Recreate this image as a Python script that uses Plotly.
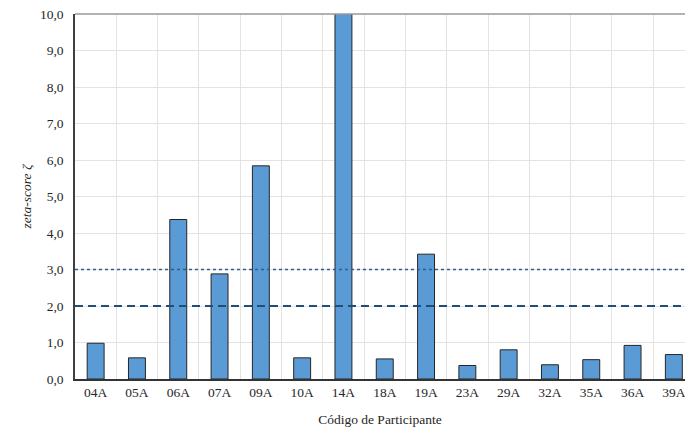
import plotly.graph_objects as go

# Participant codes and their zeta-scores
participants = ["04A", "05A", "06A", "07A", "09A", "10A", "14A", "18A",
                "19A", "23A", "29A", "32A", "35A", "36A", "39A"]
zeta_scores = [0.98, 0.58, 4.37, 2.88, 5.84, 0.58, 11.5, 0.55,
               3.42, 0.37, 0.80, 0.39, 0.53, 0.92, 0.67]

# Criteria limits
limit_questionable = 2.0
limit_unsatisfactory = 3.0

serif = "Liberation Serif"
fsize = 13.5

fig = go.Figure()
fig.add_trace(go.Bar(
    x=participants,
    y=zeta_scores,
    width=0.41,
    marker=dict(color="#5B9BD5", line=dict(color="#262626", width=1)),
    showlegend=False,
    hoverinfo="x+y",
))

# Limit lines across the full plot width
fig.add_shape(type="line", xref="paper", yref="y", x0=0, x1=1,
              y0=limit_unsatisfactory, y1=limit_unsatisfactory,
              line=dict(color="#2E5D8E", width=1.6, dash="dot"))
fig.add_shape(type="line", xref="paper", yref="y", x0=0, x1=1,
              y0=limit_questionable, y1=limit_questionable,
              line=dict(color="#1F4E79", width=2, dash="8px,5px"))

# Top frame line
fig.add_shape(type="line", xref="paper", yref="paper", x0=0, x1=1,
              y0=1, y1=1, line=dict(color="#9A9A9A", width=1.5))

fig.update_layout(
    width=685,
    height=429,
    margin=dict(l=75, r=0, t=14, b=50),
    paper_bgcolor="white",
    plot_bgcolor="white",
    separators=",.",
    font=dict(family=serif, size=fsize, color="#262626"),
    bargap=0.59,
)

fig.update_xaxes(
    type="category",
    range=[-0.5, 14.27],
    tickson="boundaries",
    showgrid=True,
    gridcolor="#E3E3E3",
    gridwidth=1,
    showline=True,
    linecolor="#333333",
    linewidth=1.5,
    ticks="",
    tickfont=dict(family=serif, size=fsize, color="#262626"),
    title=dict(text="Código de Participante",
               font=dict(family=serif, size=fsize, color="#262626"),
               standoff=16),
)

fig.update_yaxes(
    range=[0, 10],
    dtick=1,
    tickformat=".1f",
    showgrid=True,
    gridcolor="#E3E3E3",
    gridwidth=1,
    zeroline=False,
    showline=True,
    linecolor="#404040",
    linewidth=1.5,
    ticks="",
    ticklabelstandoff=7,
    tickfont=dict(family=serif, size=fsize, color="#262626"),
    title=dict(text="<i>zeta-score ζ</i>",
               font=dict(family=serif, size=fsize, color="#262626"),
               standoff=5),
)

fig.write_html("out.html")
